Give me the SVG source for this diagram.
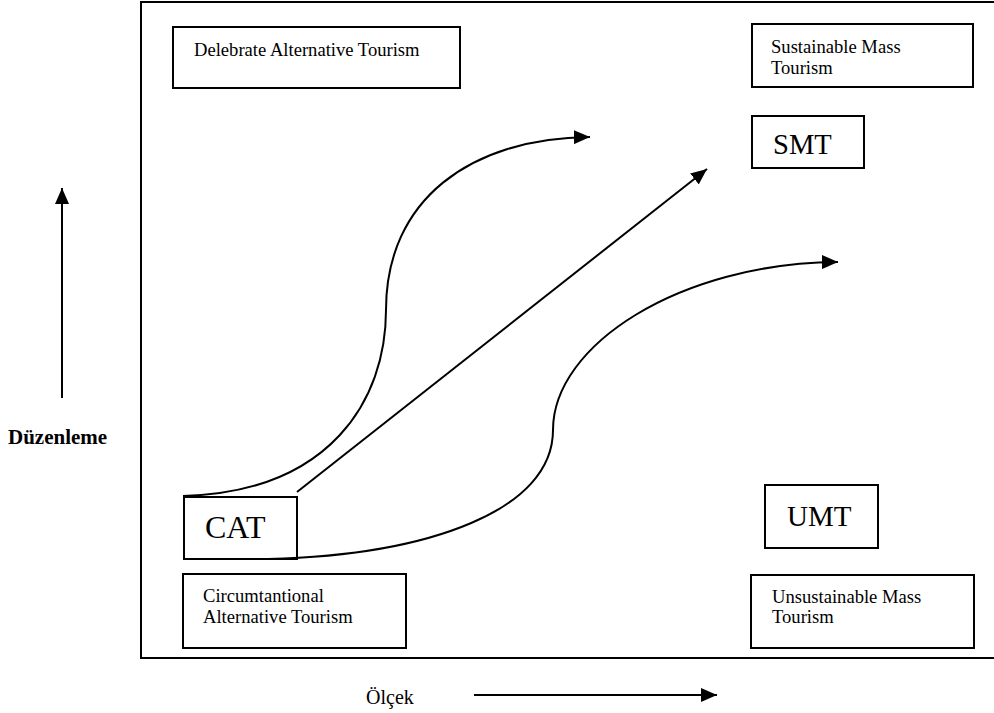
<svg xmlns="http://www.w3.org/2000/svg" width="994" height="713" viewBox="0 0 994 713">
<style>
.box{fill:#fff;stroke:#000;stroke-width:2}
.t{font-family:"Liberation Serif","Times New Roman",serif;fill:#000}
.s{font-size:18.6px}
.ab{font-size:29px}
.ln{fill:none;stroke:#000;stroke-width:2}
</style>
<defs>
<marker id="ah" markerUnits="userSpaceOnUse" markerWidth="18" markerHeight="14" refX="16" refY="7" orient="auto">
<path d="M0,0 L16,7 L0,14 Z" fill="#000"/>
</marker>
</defs>
<rect width="994" height="713" fill="#fff"/>
<g id="frame"><rect x="141" y="2" width="870" height="656" fill="none" stroke="#000" stroke-width="2"/></g>
<g id="dat"><rect class="box" x="173" y="27" width="287" height="61"/><text class="t s" x="194" y="56">Delebrate Alternative Tourism</text></g>
<g id="smt-label"><rect class="box" x="752" y="24" width="221" height="63"/><text class="t s" x="771" y="53">Sustainable Mass</text><text class="t s" x="771" y="74">Tourism</text></g>
<g id="smt"><rect class="box" x="752" y="116" width="112" height="52"/><text class="t ab" x="773" y="154" style="font-size:28.6px">SMT</text></g>
<g id="cat"><rect class="box" x="184" y="497" width="113" height="62"/><text class="t" x="205" y="538" style="font-size:32px">CAT</text></g>
<g id="cat-label"><rect class="box" x="183" y="574" width="223" height="74"/><text class="t s" x="203" y="602">Circumtantional</text><text class="t s" x="203" y="623">Alternative Tourism</text></g>
<g id="umt"><rect class="box" x="765" y="485" width="113" height="63"/><text class="t ab" x="787" y="526">UMT</text></g>
<g id="umt-label"><rect class="box" x="751" y="575" width="223" height="73"/><text class="t s" x="772" y="603">Unsustainable Mass</text><text class="t s" x="772" y="623">Tourism</text></g>
<g id="connectors">
<path class="ln" marker-end="url(#ah)" d="M183,496 C330,492 386,400 386,310 C386,200 470,138 590,137"/>
<path class="ln" marker-end="url(#ah)" d="M297,492 L707,169"/>
<path class="ln" marker-end="url(#ah)" d="M268,559 C430,555 553,510 553,430 C553,345 680,263 838,262"/>
<path class="ln" marker-end="url(#ah)" d="M62,398 L62,188"/>
<path class="ln" marker-end="url(#ah)" d="M474,695 L717,695"/>
</g>
<g id="axis-labels">
<text class="t" x="8" y="444" style="font-size:21px;font-weight:bold">Düzenleme</text>
<text class="t" x="366" y="704" style="font-size:20px">Ölçek</text>
</g>
</svg>
